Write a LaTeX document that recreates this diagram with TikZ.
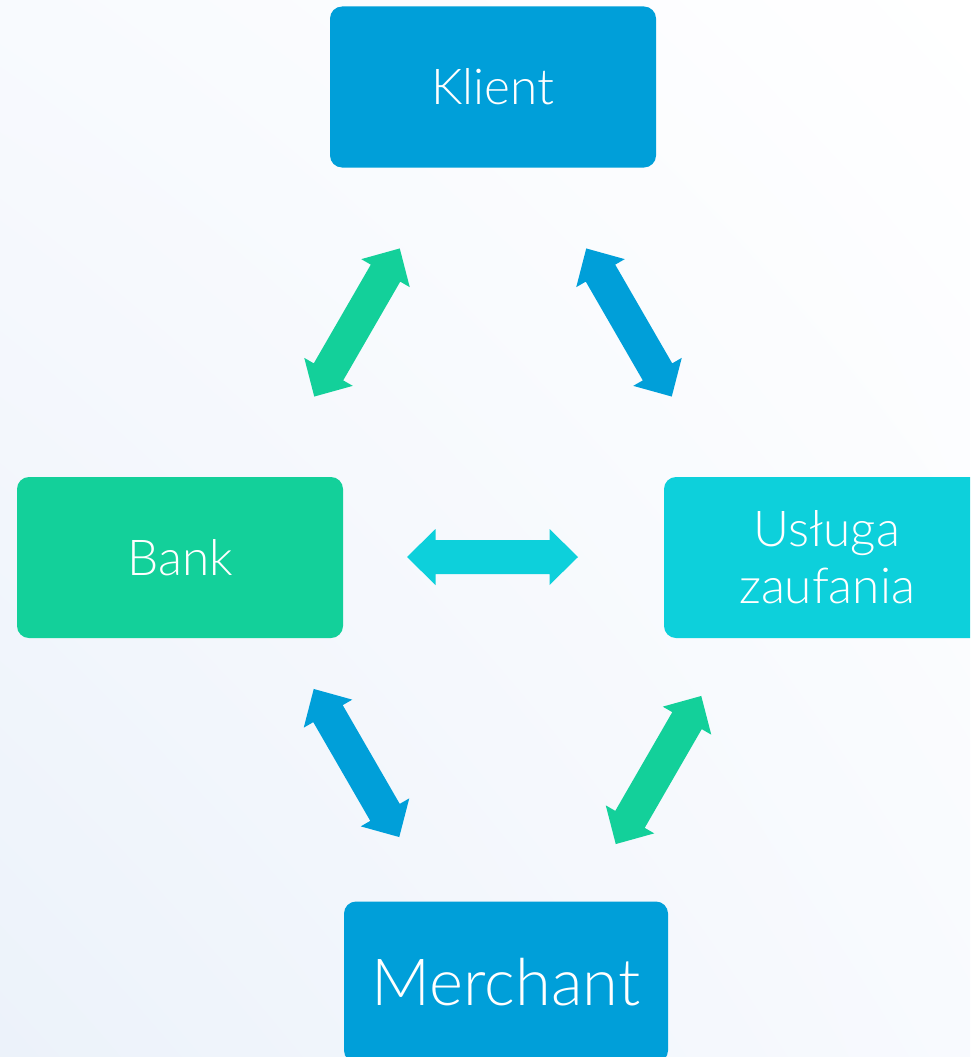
\documentclass[tikz,border=0pt]{standalone}
\usepackage{fontspec}
\setmainfont{Lato Light}
\usetikzlibrary{shadings}
\definecolor{cblue}{RGB}{0,159,217}
\definecolor{cgreen}{RGB}{19,208,154}
\definecolor{ccyan}{RGB}{13,208,219}
\definecolor{bgA}{RGB}{236,242,250}
\definecolor{bgB}{RGB}{248,250,254}
\tikzset{
  box/.style={rectangle, rounded corners=12pt, minimum width=326pt, minimum height=161pt, inner sep=0pt, text=white, align=center, font=\fontsize{49.5}{57}\selectfont},
  dblarrow/.pic={\fill[pic actions] (-85.5,0) -- (-57,28) -- (-57,17) -- (57,17) -- (57,28) -- (85.5,0) -- (57,-28) -- (57,-17) -- (-57,-17) -- (-57,-28) -- cycle;}
}
\begin{document}
\begin{tikzpicture}[x=1pt,y=-1pt]
\useasboundingbox (0,0) rectangle (970,1057);
\clip (0,0) rectangle (970,1057);
\shade[lower left=bgA, upper right=white, upper left=bgB, lower right=bgB] (0,0) rectangle (970,1057);
\node[box, fill=cblue] (klient) at (493,87) {Klient};
\node[box, fill=cgreen] (bank) at (180,557.5) {Bank};
\node[box, fill=ccyan] (usluga) at (827,557.5) {Usługa\\zaufania};
\node[box, fill=cblue, minimum width=324pt, font=\fontsize{65}{72}\selectfont] (merchant) at (506,982) {Merchant};
\coordinate (kb) at (357,322.5);
\coordinate (ku) at (629,322.5);
\coordinate (bu) at (492.5,557);
\coordinate (bm) at (356.5,763);
\coordinate (um) at (658.5,770);
\pic[fill=cgreen, rotate=60] at (kb) {dblarrow};
\pic[fill=cblue, rotate=-60] at (ku) {dblarrow};
\pic[fill=ccyan] at (bu) {dblarrow};
\pic[fill=cblue, rotate=-60] at (bm) {dblarrow};
\pic[fill=cgreen, rotate=60] at (um) {dblarrow};
\end{tikzpicture}
\end{document}
